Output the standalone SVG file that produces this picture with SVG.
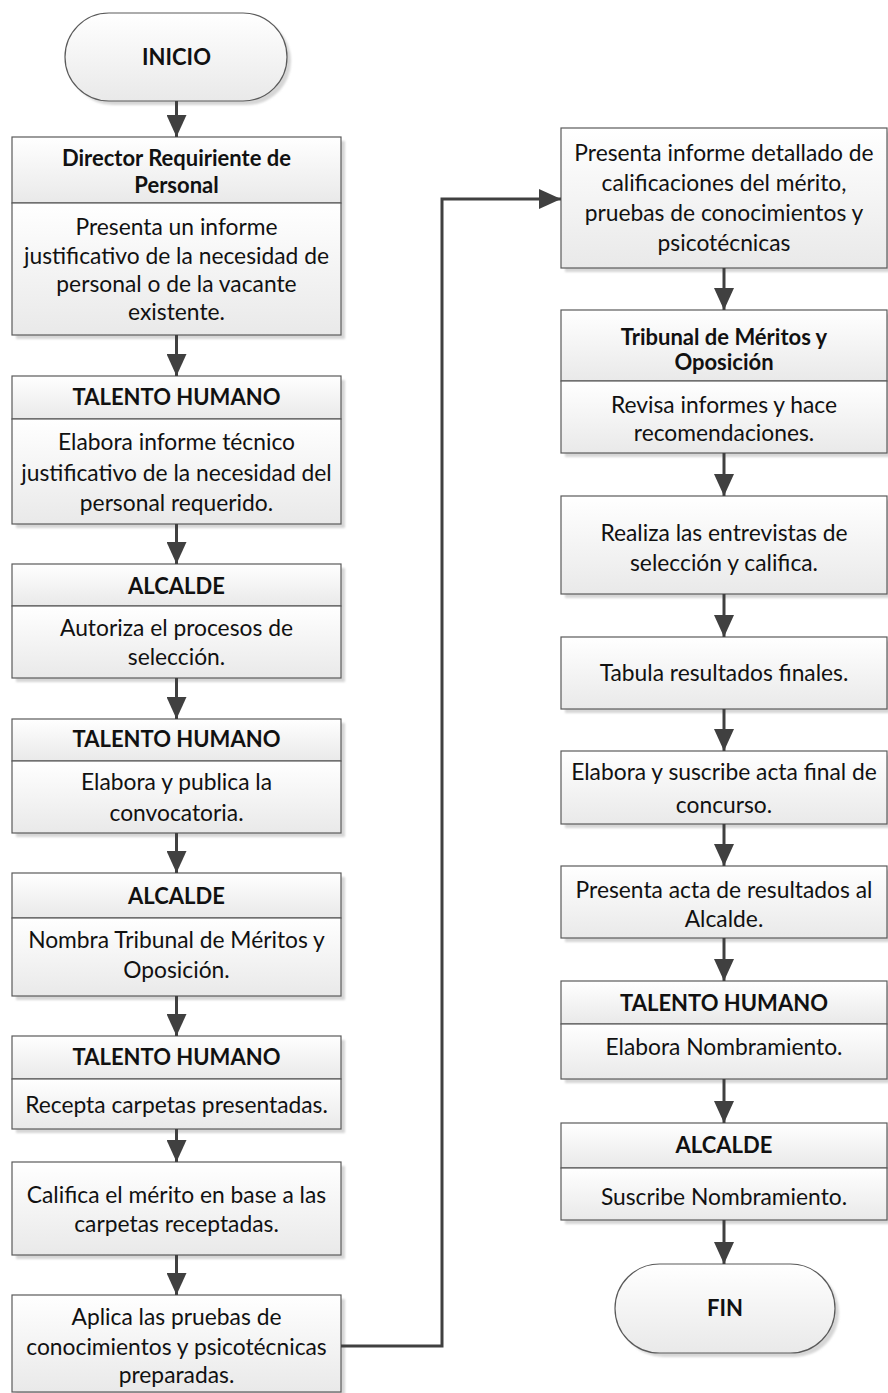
<svg xmlns="http://www.w3.org/2000/svg" width="888" height="1393" viewBox="0 0 888 1393">
  <defs>
    <linearGradient id="fillGrad" x1="0" y1="0" x2="0" y2="1">
      <stop offset="0" stop-color="#ffffff"/>
      <stop offset="1" stop-color="#e9e9e9"/>
    </linearGradient>
    <filter id="soft" x="-5%" y="-5%" width="110%" height="110%">
      <feGaussianBlur stdDeviation="1.2"/>
    </filter>
    <marker id="arrow" markerUnits="userSpaceOnUse" markerWidth="22" markerHeight="20" refX="22" refY="10" orient="auto">
      <path d="M0,0 L22,10 L0,20 Z" fill="#404040"/>
    </marker>
  </defs>
  <style>
    .shadow { fill: #d6d6d6; filter: url(#soft); }
    .box { fill: url(#fillGrad); stroke: #5a5a5a; stroke-width: 1.2; }
    .t { font-family: Lato, "Open Sans", sans-serif; font-size: 22.8px; fill: #111; text-anchor: middle; }
    .h { font-family: Lato, "Open Sans", sans-serif; font-size: 22px; font-weight: bold; fill: #111; text-anchor: middle; }
    .conn { fill: none; stroke: #404040; stroke-width: 3; marker-end: url(#arrow); }
  </style>
  <rect width="888" height="1393" fill="#ffffff"/>

  <!-- left column -->
  <g id="inicio">
    <rect class="shadow" x="69" y="17" width="222" height="88" rx="44"/>
    <rect class="box" x="65" y="13" width="222" height="88" rx="44"/>
    <text class="h" x="176.5" y="65">INICIO</text>
  </g>

  <g id="n1">
    <rect class="shadow" x="16" y="141" width="329" height="198"/>
    <rect class="box" x="12" y="137" width="329" height="66"/>
    <rect class="box" x="12" y="203" width="329" height="132"/>
    <text class="h" x="176.5" y="166">Director Requiriente de</text>
    <text class="h" x="176.5" y="193">Personal</text>
    <text class="t" x="176.5" y="235">Presenta un informe</text>
    <text class="t" x="176.5" y="264">justificativo de la necesidad de</text>
    <text class="t" x="176.5" y="292">personal o de la vacante</text>
    <text class="t" x="176.5" y="320">existente.</text>
  </g>

  <g id="n2">
    <rect class="shadow" x="16" y="380" width="329" height="148"/>
    <rect class="box" x="12" y="376" width="329" height="43"/>
    <rect class="box" x="12" y="419" width="329" height="105"/>
    <text class="h" x="176.5" y="405">TALENTO HUMANO</text>
    <text class="t" x="176.5" y="450">Elabora informe técnico</text>
    <text class="t" x="176.5" y="481">justificativo de la necesidad del</text>
    <text class="t" x="176.5" y="511">personal requerido.</text>
  </g>

  <g id="n3">
    <rect class="shadow" x="16" y="568" width="329" height="114"/>
    <rect class="box" x="12" y="564" width="329" height="42"/>
    <rect class="box" x="12" y="606" width="329" height="72"/>
    <text class="h" x="176.5" y="594">ALCALDE</text>
    <text class="t" x="176.5" y="636">Autoriza el procesos de</text>
    <text class="t" x="176.5" y="665">selección.</text>
  </g>

  <g id="n4">
    <rect class="shadow" x="16" y="723" width="329" height="114"/>
    <rect class="box" x="12" y="719" width="329" height="42"/>
    <rect class="box" x="12" y="761" width="329" height="72"/>
    <text class="h" x="176.5" y="747">TALENTO HUMANO</text>
    <text class="t" x="176.5" y="790">Elabora y publica la</text>
    <text class="t" x="176.5" y="821">convocatoria.</text>
  </g>

  <g id="n5">
    <rect class="shadow" x="16" y="877" width="329" height="123"/>
    <rect class="box" x="12" y="873" width="329" height="45"/>
    <rect class="box" x="12" y="918" width="329" height="78"/>
    <text class="h" x="176.5" y="904">ALCALDE</text>
    <text class="t" x="176.5" y="948">Nombra Tribunal de Méritos y</text>
    <text class="t" x="176.5" y="978">Oposición.</text>
  </g>

  <g id="n6">
    <rect class="shadow" x="16" y="1040" width="329" height="93"/>
    <rect class="box" x="12" y="1036" width="329" height="43"/>
    <rect class="box" x="12" y="1079" width="329" height="50"/>
    <text class="h" x="176.5" y="1065">TALENTO HUMANO</text>
    <text class="t" x="176.5" y="1113">Recepta carpetas presentadas.</text>
  </g>

  <g id="n7">
    <rect class="shadow" x="16" y="1166" width="329" height="93"/>
    <rect class="box" x="12" y="1162" width="329" height="93"/>
    <text class="t" x="176.5" y="1203">Califica el mérito en base a las</text>
    <text class="t" x="176.5" y="1232">carpetas receptadas.</text>
  </g>

  <g id="n8">
    <rect class="shadow" x="16" y="1299" width="329" height="97"/>
    <rect class="box" x="12" y="1295" width="329" height="97"/>
    <text class="t" x="176.5" y="1325">Aplica las pruebas de</text>
    <text class="t" x="176.5" y="1355">conocimientos y psicotécnicas</text>
    <text class="t" x="176.5" y="1383">preparadas.</text>
  </g>

  <!-- right column -->
  <g id="r1">
    <rect class="shadow" x="565" y="132" width="326" height="140"/>
    <rect class="box" x="561" y="128" width="326" height="140"/>
    <text class="t" x="724" y="161">Presenta informe detallado de</text>
    <text class="t" x="724" y="191">calificaciones del mérito,</text>
    <text class="t" x="724" y="221">pruebas de conocimientos y</text>
    <text class="t" x="724" y="251">psicotécnicas</text>
  </g>

  <g id="r2">
    <rect class="shadow" x="565" y="314" width="326" height="143"/>
    <rect class="box" x="561" y="310" width="326" height="71"/>
    <rect class="box" x="561" y="381" width="326" height="72"/>
    <text class="h" x="724" y="345">Tribunal de Méritos y</text>
    <text class="h" x="724" y="370">Oposición</text>
    <text class="t" x="724" y="413">Revisa informes y hace</text>
    <text class="t" x="724" y="441">recomendaciones.</text>
  </g>

  <g id="r3">
    <rect class="shadow" x="565" y="500" width="326" height="98"/>
    <rect class="box" x="561" y="496" width="326" height="98"/>
    <text class="t" x="724" y="541">Realiza las entrevistas de</text>
    <text class="t" x="724" y="571">selección y califica.</text>
  </g>

  <g id="r4">
    <rect class="shadow" x="565" y="641" width="326" height="72"/>
    <rect class="box" x="561" y="637" width="326" height="72"/>
    <text class="t" x="724" y="681">Tabula resultados finales.</text>
  </g>

  <g id="r5">
    <rect class="shadow" x="565" y="755" width="326" height="73"/>
    <rect class="box" x="561" y="751" width="326" height="73"/>
    <text class="t" x="724" y="780">Elabora y suscribe acta final de</text>
    <text class="t" x="724" y="813">concurso.</text>
  </g>

  <g id="r6">
    <rect class="shadow" x="565" y="870" width="326" height="72"/>
    <rect class="box" x="561" y="866" width="326" height="72"/>
    <text class="t" x="724" y="898">Presenta acta de resultados al</text>
    <text class="t" x="724" y="927">Alcalde.</text>
  </g>

  <g id="r7">
    <rect class="shadow" x="565" y="985" width="326" height="98"/>
    <rect class="box" x="561" y="981" width="326" height="43"/>
    <rect class="box" x="561" y="1024" width="326" height="55"/>
    <text class="h" x="724" y="1011">TALENTO HUMANO</text>
    <text class="t" x="724" y="1055">Elabora Nombramiento.</text>
  </g>

  <g id="r8">
    <rect class="shadow" x="565" y="1127" width="326" height="97"/>
    <rect class="box" x="561" y="1123" width="326" height="45"/>
    <rect class="box" x="561" y="1168" width="326" height="52"/>
    <text class="h" x="724" y="1153">ALCALDE</text>
    <text class="t" x="724" y="1205">Suscribe Nombramiento.</text>
  </g>

  <g id="fin">
    <rect class="shadow" x="619" y="1268" width="220" height="89" rx="44.5"/>
    <rect class="box" x="615" y="1264" width="220" height="89" rx="44.5"/>
    <text class="h" x="725" y="1316">FIN</text>
  </g>

  <!-- connectors -->
  <g id="connectors">
    <path class="conn" d="M176.5,101 V137"/>
    <path class="conn" d="M176.5,335 V376"/>
    <path class="conn" d="M176.5,524 V564"/>
    <path class="conn" d="M176.5,678 V719"/>
    <path class="conn" d="M176.5,833 V873"/>
    <path class="conn" d="M176.5,996 V1036"/>
    <path class="conn" d="M176.5,1129 V1162"/>
    <path class="conn" d="M176.5,1255 V1295"/>
    <path class="conn" d="M341,1346 H442 V199 H561"/>
    <path class="conn" d="M724,268 V310"/>
    <path class="conn" d="M724,453 V496"/>
    <path class="conn" d="M724,594 V637"/>
    <path class="conn" d="M724,709 V751"/>
    <path class="conn" d="M724,824 V866"/>
    <path class="conn" d="M724,938 V981"/>
    <path class="conn" d="M724,1079 V1123"/>
    <path class="conn" d="M724,1220 V1264"/>
  </g>
</svg>
